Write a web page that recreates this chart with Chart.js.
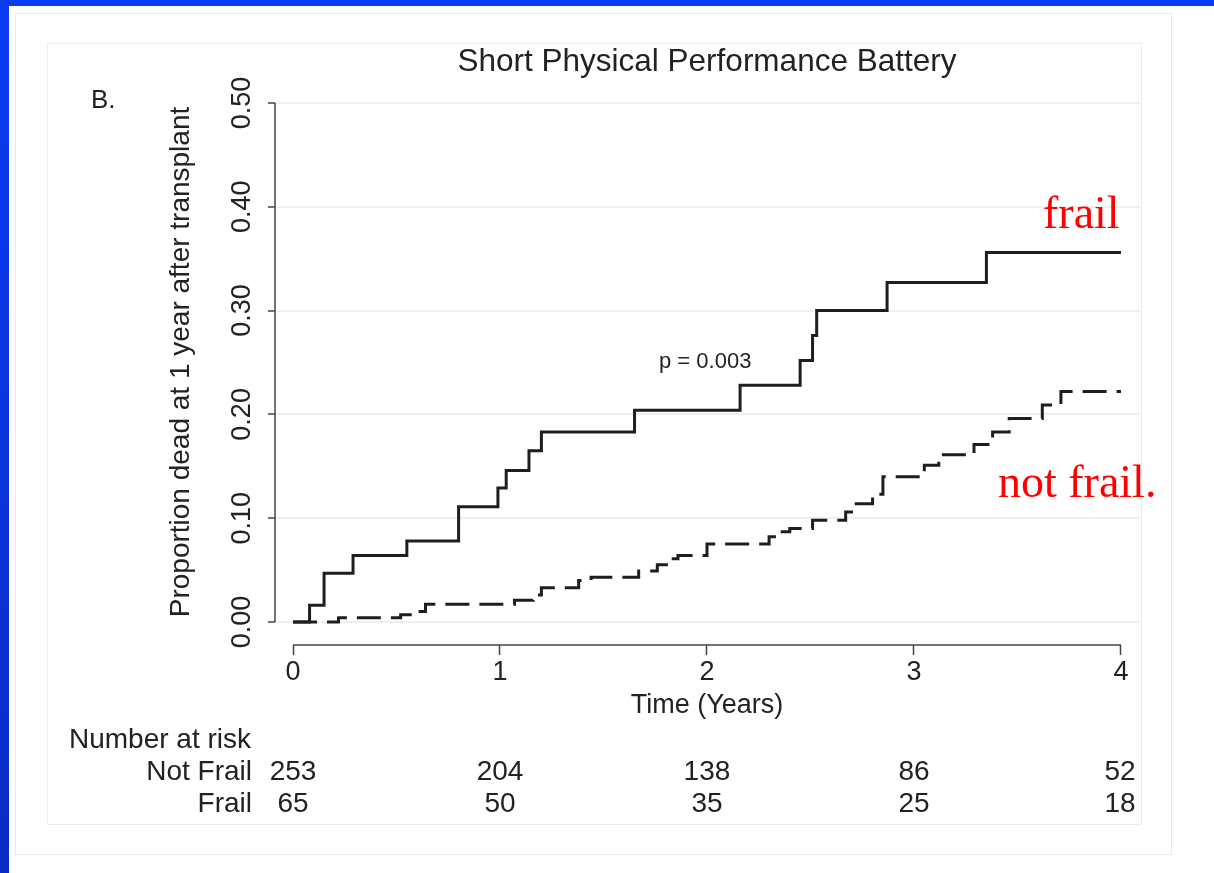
<!DOCTYPE html>
<html>
<head>
    <title>Short Physical Performance Battery</title>
    <script src="https://cdn.jsdelivr.net/npm/chart.js"></script>
    <style>
        body { margin: 0; background: #fff; width: 1214px; height: 873px; overflow: hidden; position: relative; }
        #topbar { position: absolute; left: 0; top: 0; width: 1214px; height: 6px; background: #0a3cf4; }
        #leftbar { position: absolute; left: 0; top: 0; width: 9px; height: 873px; background: linear-gradient(#0a3cf4, #0a2cc4); }
        #outer { position: absolute; left: 15px; top: 13px; width: 1155px; height: 840px; border: 1px solid #e8e8e8; }
        #inner { position: absolute; left: 47px; top: 43px; width: 1093px; height: 780px; border: 1px solid #ececec; }
        canvas { position: absolute; left: 0; top: 0; }
    </style>
</head>
<body>
    <div id="topbar"></div>
    <div id="leftbar"></div>
    <div id="outer"></div>
    <div id="inner"></div>
    <canvas id="kmChart" width="1214" height="873"></canvas>

    <script>
        // cumulative mortality
        const frailTimes = [0, 0.08, 0.15, 0.29, 0.55, 0.80, 0.99, 1.03, 1.14, 1.20, 1.65, 2.16, 2.45, 2.51, 2.53, 2.87, 3.35, 4.0];
        const frailDead  = [0, 0.016, 0.047, 0.064, 0.078, 0.111, 0.129, 0.146, 0.165, 0.183, 0.204, 0.228, 0.252, 0.276, 0.300, 0.327, 0.356, 0.356];

        const notFrailTimes = [0, 0.22, 0.52, 0.60, 0.64, 1.07, 1.16, 1.20, 1.38, 1.44, 1.67, 1.76, 1.82, 1.86, 2.00, 2.30, 2.35, 2.40, 2.51, 2.67, 2.71, 2.80, 2.85, 3.05, 3.12, 3.29, 3.38, 3.46, 3.62, 3.71, 4.0];
        const notFrailDead  = [0, 0.004, 0.007, 0.010, 0.017, 0.021, 0.026, 0.033, 0.040, 0.043, 0.049, 0.055, 0.061, 0.064, 0.075, 0.082, 0.087, 0.090, 0.098, 0.106, 0.114, 0.123, 0.140, 0.151, 0.161, 0.171, 0.183, 0.196, 0.209, 0.222, 0.222];

        const xTicks = [0, 1, 2, 3, 4];
        const yTicks = [0, 0.1, 0.2, 0.3, 0.4, 0.5];

        const riskTimes = [0, 1, 2, 3, 4];
        const riskNotFrail = [253, 204, 138, 86, 52];
        const riskFrail = [65, 50, 35, 25, 18];

        const textColor = '#222';
        const sans = '"Liberation Sans", Arial, Helvetica, sans-serif';

        function toPoints(xs, ys) {
            return xs.map((x, i) => ({ x: x, y: ys[i] }));
        }

        // axis lines, labels, risk table and annotations
        const extras = {
            id: 'extras',
            afterDraw(chart) {
                const ctx = chart.ctx;
                const xs = chart.scales.x, ys = chart.scales.y;
                ctx.save();
                ctx.strokeStyle = '#444';
                ctx.lineWidth = 1.5;
                ctx.beginPath();
                ctx.moveTo(chart.chartArea.left, ys.getPixelForValue(0.5));
                ctx.lineTo(chart.chartArea.left, ys.getPixelForValue(0));
                ctx.moveTo(xs.getPixelForValue(0), chart.chartArea.bottom);
                ctx.lineTo(xs.getPixelForValue(4), chart.chartArea.bottom);
                ctx.stroke();

                ctx.fillStyle = textColor;
                ctx.textBaseline = 'middle';

                // y tick labels, rotated
                ctx.font = '27px ' + sans;
                ctx.textAlign = 'center';
                yTicks.forEach(v => {
                    ctx.save();
                    ctx.translate(243, ys.getPixelForValue(v));
                    ctx.rotate(-Math.PI / 2);
                    ctx.fillText(v.toFixed(2), 0, 0);
                    ctx.restore();
                });

                ctx.save();
                ctx.translate(181, 362);
                ctx.rotate(-Math.PI / 2);
                ctx.font = '28px ' + sans;
                ctx.fillText('Proportion dead at 1 year after transplant', 0, 0);
                ctx.restore();

                ctx.font = '31.5px ' + sans;
                ctx.fillText('Short Physical Performance Battery', xs.getPixelForValue(2), 62);

                ctx.font = '27px ' + sans;
                ctx.fillText('Time (Years)', xs.getPixelForValue(2), 706);

                ctx.textAlign = 'left';
                ctx.font = '26px ' + sans;
                ctx.fillText('B.', 91, 101);
                ctx.font = '28px ' + sans;
                ctx.fillText('Number at risk', 69, 740);

                ctx.textAlign = 'right';
                ctx.fillText('Not Frail', 252, 772);
                ctx.fillText('Frail', 252, 804);

                ctx.textAlign = 'center';
                riskTimes.forEach((t, i) => {
                    let px = xs.getPixelForValue(t);
                    if (i === riskTimes.length - 1) px -= 1;
                    ctx.fillText(String(riskNotFrail[i]), px, 772);
                    ctx.fillText(String(riskFrail[i]), px, 804);
                });

                ctx.font = '22px ' + sans;
                ctx.textAlign = 'left';
                ctx.fillText('p = 0.003', 659, 362);

                ctx.fillStyle = '#ff0000';
                ctx.font = '46px "Liberation Serif", "Times New Roman", serif';
                ctx.textBaseline = 'alphabetic';
                ctx.fillText('frail', 1043, 228);
                ctx.fillText('not frail.', 998, 497);
                ctx.restore();
            }
        };

        const ctx = document.getElementById('kmChart').getContext('2d');
        const myChart = new Chart(ctx, {
            type: 'line',
            data: {
                datasets: [{
                    label: 'Frail',
                    data: toPoints(frailTimes, frailDead),
                    borderColor: '#1e1e1e',
                    borderWidth: 3,
                    stepped: 'before',
                    pointRadius: 0,
                    fill: false
                }, {
                    label: 'Not Frail',
                    data: toPoints(notFrailTimes, notFrailDead),
                    borderColor: '#1e1e1e',
                    borderWidth: 3,
                    borderDash: [24, 10],
                    stepped: 'before',
                    pointRadius: 0,
                    fill: false
                }]
            },
            options: {
                responsive: false,
                animation: false,
                events: [],
                layout: { padding: { left: 0, top: 103, right: 74, bottom: 0 } },
                plugins: {
                    legend: { display: false },
                    tooltip: { enabled: false }
                },
                scales: {
                    x: {
                        type: 'linear',
                        min: -0.087,
                        max: 4.092,
                        afterFit: s => { s.height = 228; },
                        afterBuildTicks: s => { s.ticks = xTicks.map(v => ({ value: v })); },
                        border: { display: false },
                        grid: { drawOnChartArea: false, tickLength: 10, tickColor: '#444', tickWidth: 1.5 },
                        ticks: {
                            color: textColor,
                            font: { family: sans, size: 27 },
                            padding: 1,
                            maxRotation: 0,
                            callback: v => String(v)
                        }
                    },
                    y: {
                        type: 'linear',
                        min: -0.0222,
                        max: 0.5,
                        afterFit: s => { s.width = 275; },
                        afterBuildTicks: s => { s.ticks = yTicks.map(v => ({ value: v })); },
                        border: { display: false },
                        grid: { color: '#efefef', lineWidth: 2, tickLength: 7, tickColor: '#444', tickWidth: 1.5 },
                        ticks: { display: false }
                    }
                }
            },
            plugins: [extras]
        });
    </script>
</body>
</html>
